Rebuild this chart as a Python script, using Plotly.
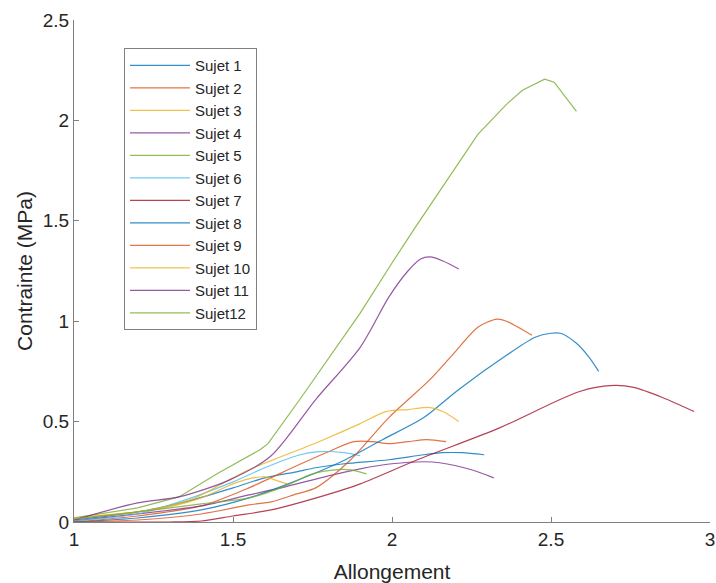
import plotly.graph_objects as go

# ---- data ----
names = ["Sujet 1", "Sujet 2", "Sujet 3", "Sujet 4", "Sujet 5", "Sujet 6",
         "Sujet 7", "Sujet 8", "Sujet 9", "Sujet 10", "Sujet 11", "Sujet12"]

x1 = [1.0, 1.2, 1.35, 1.5, 1.6, 1.7, 1.76, 1.85, 1.99, 2.1, 2.16, 2.22, 2.29]
y1 = [0.01, 0.05, 0.10, 0.17, 0.22, 0.25, 0.27, 0.29, 0.31, 0.335, 0.345, 0.345, 0.335]

x2 = [1.0, 1.2, 1.4, 1.55, 1.7, 1.8, 1.88, 1.94, 1.99, 2.05, 2.11, 2.17]
y2 = [0.0, 0.03, 0.08, 0.17, 0.28, 0.35, 0.40, 0.40, 0.39, 0.40, 0.41, 0.40]

x3 = [1.0, 1.1, 1.2, 1.3, 1.4, 1.5, 1.55, 1.6, 1.64, 1.67]
y3 = [0.02, 0.035, 0.05, 0.075, 0.12, 0.19, 0.215, 0.225, 0.205, 0.19]

x4 = [1.0, 1.2, 1.4, 1.55, 1.65, 1.8, 1.9, 2.0, 2.1, 2.15, 2.25, 2.32]
y4 = [0.005, 0.04, 0.08, 0.135, 0.17, 0.23, 0.265, 0.29, 0.30, 0.295, 0.26, 0.22]

x5 = [1.0, 1.2, 1.33, 1.45, 1.585, 1.61, 1.71, 1.9, 2.0, 2.07, 2.27, 2.31, 2.36, 2.41, 2.48, 2.51, 2.58]
y5 = [0.02, 0.07, 0.125, 0.24, 0.36, 0.39, 0.61, 1.04, 1.29, 1.46, 1.93, 1.995, 2.08, 2.15, 2.205, 2.19, 2.045]

x6 = [1.0, 1.2, 1.35, 1.5, 1.6, 1.7, 1.77, 1.85, 1.9]
y6 = [0.005, 0.04, 0.11, 0.20, 0.27, 0.33, 0.35, 0.345, 0.33]

x7 = [1.0, 1.3, 1.4, 1.5, 1.62, 1.74, 1.9, 2.08, 2.34, 2.59, 2.7, 2.76, 2.85, 2.95]
y7 = [0.0, 0.0, 0.005, 0.03, 0.06, 0.11, 0.19, 0.31, 0.47, 0.65, 0.68, 0.67, 0.62, 0.55]

x8 = [1.0, 1.2, 1.4, 1.55, 1.69, 1.84, 1.97, 2.1, 2.21, 2.36, 2.45, 2.5, 2.53, 2.58, 2.62, 2.65]
y8 = [0.0, 0.02, 0.06, 0.12, 0.20, 0.30, 0.41, 0.52, 0.66, 0.83, 0.92, 0.94, 0.94, 0.89, 0.82, 0.75]

x9 = [1.0, 1.2, 1.4, 1.55, 1.62, 1.7, 1.76, 1.87, 1.99, 2.12, 2.2, 2.27, 2.33, 2.36, 2.44]
y9 = [0.0, 0.01, 0.04, 0.085, 0.10, 0.14, 0.17, 0.31, 0.52, 0.71, 0.85, 0.97, 1.01, 1.0, 0.93]

x10 = [1.0, 1.2, 1.365, 1.5, 1.55, 1.77, 1.9, 1.98, 2.05, 2.12, 2.16, 2.21]
y10 = [0.02, 0.05, 0.11, 0.22, 0.26, 0.40, 0.49, 0.55, 0.56, 0.57, 0.55, 0.50]

x11 = [1.0, 1.2, 1.33, 1.49, 1.62, 1.76, 1.9, 1.99, 2.05, 2.09, 2.12, 2.16, 2.21]
y11 = [0.01, 0.095, 0.125, 0.21, 0.33, 0.61, 0.87, 1.12, 1.25, 1.31, 1.32, 1.30, 1.26]

x12 = [1.0, 1.2, 1.4, 1.55, 1.65, 1.75, 1.82, 1.87, 1.92]
y12 = [0.015, 0.05, 0.09, 0.12, 0.17, 0.24, 0.26, 0.26, 0.24]

xs = [x1, x2, x3, x4, x5, x6, x7, x8, x9, x10, x11, x12]
ys = [y1, y2, y3, y4, y5, y6, y7, y8, y9, y10, y11, y12]

colors = ["#0072BD", "#D95319", "#EDB120", "#7E2F8E", "#77AC30", "#4DBEEE",
          "#A2142F", "#0072BD", "#D95319", "#EDB120", "#7E2F8E", "#77AC30"]
shapes = ["spline"] * 12
shapes[4] = "linear"

x_ticks = [1, 1.5, 2, 2.5, 3]
x_ticktext = ["1", "1.5", "2", "2.5", "3"]
y_ticks = [0, 0.5, 1, 1.5, 2, 2.5]
y_ticktext = ["0", "0.5", "1", "1.5", "2", "2.5"]

FONT = "Liberation Sans, Arial, Helvetica, sans-serif"
AX = "#808080"

fig = go.Figure()
for i in range(12):
    fig.add_trace(go.Scatter(
        x=xs[i], y=ys[i], mode="lines", name=names[i],
        legendgroup="g%d" % i, opacity=0.8,
        line=dict(color=colors[i], width=1.2, shape=shapes[i], smoothing=0.8),
    ))

axis_common = dict(
    showgrid=False, zeroline=False, showline=True, automargin=False,
    linecolor=AX, linewidth=1,
    ticks="inside", ticklen=5, tickcolor=AX, tickwidth=1,
    tickfont=dict(family=FONT, size=19, color="#262626"),
    mirror=False,
)

fig.update_layout(
    width=716, height=583,
    margin=dict(l=74, r=6, t=20, b=61),
    paper_bgcolor="white", plot_bgcolor="white",
    font=dict(family=FONT, color="#262626"),
    showlegend=True,
    legend=dict(
        x=0.0786, y=0.944, xanchor="left", yanchor="top",
        bgcolor="white", bordercolor=AX, borderwidth=1,
        font=dict(family=FONT, size=15, color="#262626"),
        tracegroupgap=0, itemwidth=60,
    ),
    xaxis=dict(
        range=[1, 3], tickvals=x_ticks, ticktext=x_ticktext,
        title=dict(text="Allongement", font=dict(family=FONT, size=21, color="#262626"), standoff=15),
        **axis_common,
    ),
    yaxis=dict(
        range=[0, 2.5], tickvals=y_ticks, ticktext=y_ticktext,
        title=dict(text="Contrainte (MPa)", font=dict(family=FONT, size=21, color="#262626"), standoff=4),
        **axis_common,
    ),
)

fig.write_html(
    "out.html",
    config={"displayModeBar": False},
    post_script="document.body.style.margin='0';document.body.style.overflow='hidden';",
)
